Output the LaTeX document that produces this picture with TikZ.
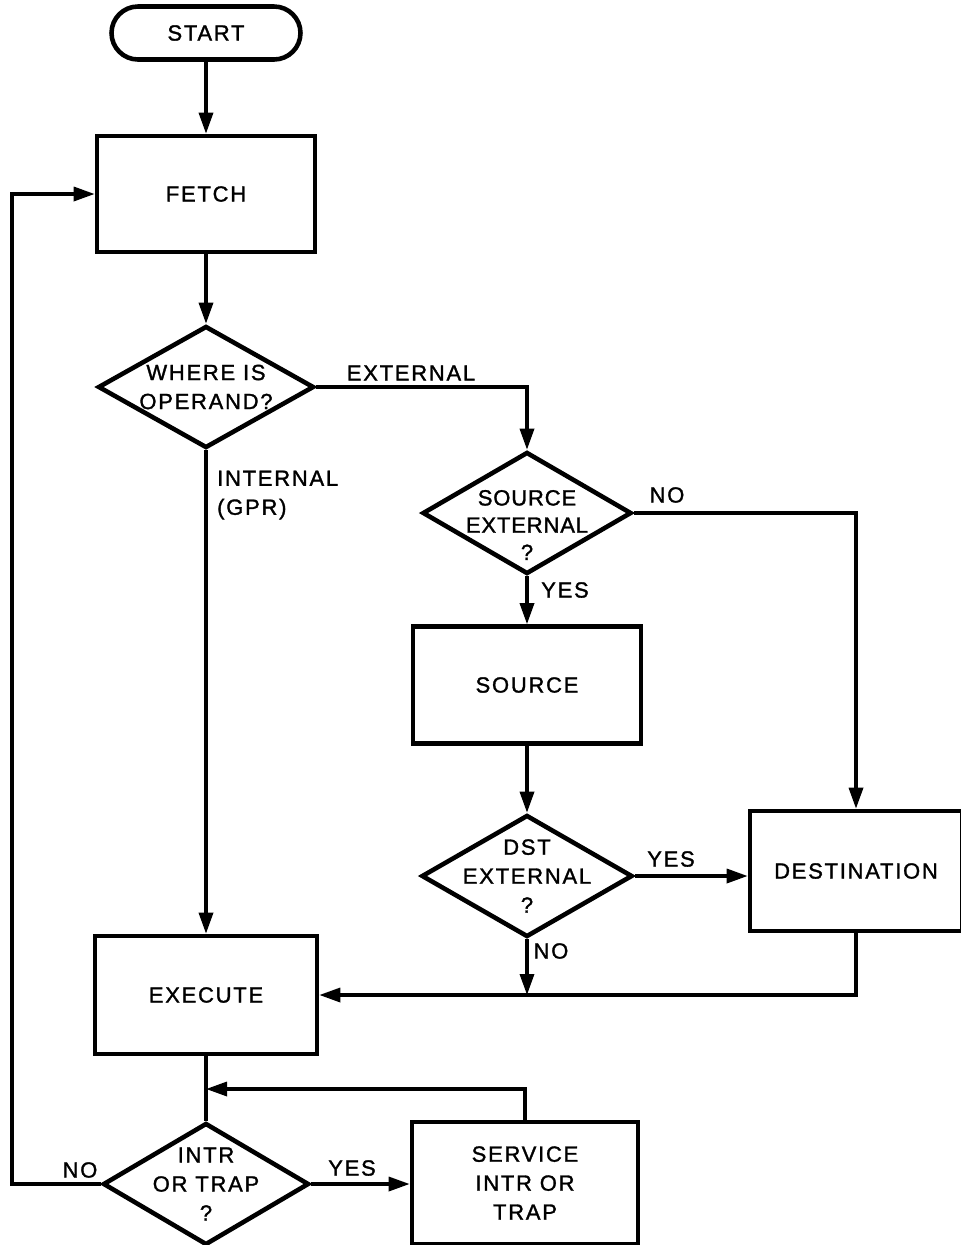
\documentclass[tikz,border=0pt]{standalone}
\usepackage{fontspec}
\setmainfont{Liberation Sans}[LetterSpace=8,FakeBold=1.4]
\usetikzlibrary{shapes.geometric,arrows.meta}
\begin{document}
\begin{tikzpicture}[
  >={Triangle[length=4.2mm,width=2.8mm]},
  font=\fontsize{12.5}{16.5}\selectfont,
  box/.style={rectangle,draw,line width=2.6pt,align=center},
  dia/.style={diamond,draw,line width=2.6pt,inner sep=0pt,minimum height=2.44cm},
  edge/.style={->,line width=1.9pt},
  line/.style={line width=1.9pt}
]
\useasboundingbox (0,0) rectangle (19.22,-24.90);
\node[box,rounded corners=0.53cm,minimum width=3.78cm,minimum height=1.06cm] (start) at (4.12,-0.66) {START};
\node[box,minimum width=4.36cm,minimum height=2.32cm] (fetch) at (4.12,-3.88) {FETCH};
\node[dia,minimum width=4.32cm,label={[align=center]center:WHERE IS\\OPERAND?}] (where) at (4.12,-7.74) {};
\node[dia,minimum width=4.18cm,label={[align=center,yshift=-0.24cm,font=\fontsize{12.5}{15.5}\selectfont\addfontfeatures{LetterSpace=4}]center:SOURCE\\EXTERNAL\\?}] (srcx) at (10.54,-10.26) {};
\node[box,minimum width=4.56cm,minimum height=2.34cm] (source) at (10.54,-13.70) {SOURCE};
\node[dia,minimum width=4.22cm,label={[align=center]center:DST\\EXTERNAL\\?}] (dstx) at (10.54,-17.52) {};
\node[box,minimum width=4.24cm,minimum height=2.40cm] (dest) at (17.12,-17.42) {DESTINATION};
\node[box,minimum width=4.44cm,minimum height=2.36cm] (execute) at (4.12,-19.90) {EXECUTE};
\node[dia,minimum width=4.12cm,label={[align=center]center:INTR\\OR TRAP\\?}] (intr) at (4.12,-23.68) {};
\node[box,minimum width=4.52cm,minimum height=2.44cm] (service) at (10.50,-23.66) {SERVICE\\INTR OR\\TRAP};
\coordinate (merge) at (4.12,-21.78);
\coordinate (loop) at (0.24,-23.68);
% branch labels
\node (lext) at (8.22,-7.46) {EXTERNAL};
\node[anchor=west,align=left] (lint) at (4.22,-9.90) {INTERNAL\\(GPR)};
\node (lsno) at (13.34,-9.90) {NO};
\node (lsyes) at (11.30,-11.80) {YES};
\node (ldyes) at (13.42,-17.18) {YES};
\node (ldno) at (11.02,-19.02) {NO};
\node (lino) at (1.60,-23.40) {NO};
\node (liyes) at (7.04,-23.36) {YES};
\draw[edge] (start)--(fetch);
\draw[edge] (fetch)--(where);
\draw[edge] (where.east)-|(srcx.north);
\draw[edge] (where.south)--(execute.north);
\draw[edge] (srcx.east)-|(dest.north);
\draw[edge] (srcx.south)--(source.north);
\draw[edge] (source.south)--(dstx.north);
\draw[edge] (dstx.east)--(dstx.east-|dest.west);
\draw[edge] (dest.south)|-(execute.east);
\draw[edge] (dstx.south)--(dstx.south|-execute.east);
\draw[line] (execute.south)--(intr.north);
\draw[edge] (service.north)|-(merge);
\draw[edge] (intr.east)--(intr.east-|service.west);
\draw[edge] (intr.west)--(loop)|-(fetch.west);
\end{tikzpicture}
\end{document}
